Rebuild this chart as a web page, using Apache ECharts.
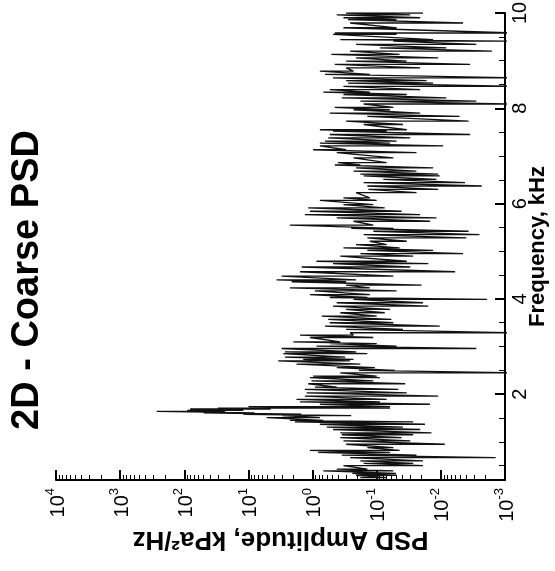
<!DOCTYPE html>
<html>
<head>
<meta charset="utf-8">
<script src="https://cdn.jsdelivr.net/npm/echarts@6/dist/echarts.min.js"></script>
<style>html,body{margin:0;padding:0;background:#fff;}#c{width:555px;height:571px;}</style>
</head>
<body>
<div id="c"></div>
<script>
// Frequency (kHz) of each spectral line group (ascending)
const freqKHz = [
0.25,0.30,0.34,0.39,0.43,0.50,0.55,0.60,0.67,0.72,0.78,0.82,0.88,0.95,1.02,1.09,1.15,1.19,1.26,1.31,1.37,1.42,1.45,1.51,
1.55,1.58,1.61,1.64,1.66,1.69,1.71,1.74,
1.79,1.84,1.89,1.96,2.03,2.10,2.15,2.22,2.28,2.35,2.38,2.45,2.50,2.56,2.63,2.70,2.73,2.78,2.85,2.89,2.96,3.01,3.06,3.10,3.19,3.24,3.29,3.36,
3.43,3.50,3.57,3.64,3.71,3.78,3.85,3.92,3.99,4.03,4.09,4.17,4.23,4.29,4.36,4.40,4.48,4.57,4.67,4.74,4.79,4.90,4.95,5.02,
5.07,5.14,5.21,5.28,5.35,5.42,5.48,5.55,5.63,5.70,5.77,5.84,5.91,5.98,6.07,6.12,6.23,6.30,6.37,6.44,6.51,6.58,6.62,6.68,
6.75,6.81,6.86,6.96,7.07,7.13,7.21,7.27,7.31,7.38,7.45,7.52,7.55,7.66,7.73,7.83,7.90,7.97,8.02,8.09,8.15,8.22,8.29,8.34,8.39,
8.46,8.53,8.58,8.64,8.71,8.78,8.85,8.92,8.99,9.06,9.13,9.20,9.27,9.34,9.41,9.44,9.55,9.58,9.69,9.79,9.86,9.90,9.96,10.0
];
// Upper PSD value in each group (kPa^2/Hz)
const psdHigh = [
0.18,0.21,0.24,0.68,0.42,0.33,0.16,0.18,0.26,0.35,0.82,1.10,0.14,0.30,0.33,0.37,0.35,0.37,0.48,0.60,0.77,1.88,2.26,5.2,
3.0,12,50,270,90,81,30,10,
0.77,1.57,1.78,1.32,1.24,1.32,0.92,1.17,1.04,1.10,0.98,0.37,0.19,0.42,1.78,3.43,1.40,2.70,2.86,2.70,3.04,0.87,0.54,2.0,1.10,1.57,0.26,0.30,
0.64,0.54,0.57,0.72,0.37,0.30,0.48,0.42,0.23,0.54,1.10,0.92,2.26,0.30,2.12,3.64,3.04,1.57,1.48,0.48,0.87,0.37,0.18,0.14,
0.33,0.21,0.128,0.14,0.16,0.113,0.25,2.26,0.23,0.42,1.32,1.10,1.17,0.33,0.77,0.33,0.21,0.135,0.14,0.16,0.079,0.16,0.18,0.23,
0.21,0.45,0.40,0.23,0.42,0.98,0.77,0.77,0.64,0.57,0.54,0.48,0.77,0.16,0.30,0.14,0.54,0.23,0.45,0.16,0.18,0.35,0.33,0.68,0.54,
0.33,0.28,0.30,0.48,0.64,0.77,0.30,0.45,0.30,0.21,0.51,0.26,0.089,0.21,0.055,0.37,0.48,0.45,0.33,0.26,0.28,0.33,0.42,0.30
];
// Lower PSD value in each group (kPa^2/Hz)
const psdLow = [
0.070,0.049,0.05,0.055,0.14,0.019,0.027,0.019,0.0014,0.024,0.062,0.044,0.055,0.0087,0.030,0.041,0.027,0.014,0.021,0.039,0.0177,0.027,0.68,0.77,
0.25,1.5,8,23,12,4.5,0.062,0.062,
0.0148,0.089,0.070,0.011,0.034,0.046,0.42,0.036,0.113,0.089,0.10,0.0007,0.052,0.107,0.18,0.26,0.23,0.31,0.14,0.21,0.0028,0.049,0.10,0.37,0.113,0.23,0.0007,0.039,
0.0104,0.055,0.059,0.10,0.075,0.062,0.0157,0.019,0.0019,0.14,0.128,0.049,0.128,0.020,0.30,0.21,0.055,0.006,0.030,0.0157,0.034,0.027,0.0045,0.0132,
0.044,0.070,0.034,0.004,0.0025,0.0037,0.055,0.113,0.0148,0.0117,0.021,0.041,0.075,0.113,0.10,0.128,0.024,0.011,0.0023,0.0042,0.0117,0.0104,0.011,0.024,
0.0132,0.18,0.070,0.055,0.024,0.30,0.0092,0.062,0.049,0.030,0.0035,0.070,0.034,0.039,0.0037,0.0051,0.021,0.062,0.055,0.0007,0.0028,0.0082,0.034,0.128,0.021,
0.0007,0.0132,0.0167,0.0007,0.128,0.23,0.021,0.0035,0.034,0.011,0.044,0.0016,0.0082,0.0028,0.0007,0.0132,0.049,0.0007,0.049,0.0045,0.049,0.021,0.03,0.019
];
// Axis tick labels
const freqTickValues = [2, 4, 6, 8, 10];
const freqMinorTickValues = [0.5,1,1.5,2.5,3,3.5,4.5,5,5.5,6.5,7,7.5,8.5,9,9.5];
const titleText = '2D - Coarse PSD';
const xName = 'PSD Amplitude, kPa\u00B2/Hz';
const yName = 'Frequency, kHz';

const FONT = '"Liberation Sans", Arial, Helvetica, sans-serif';
const points = [];
for (let i = 0; i < freqKHz.length; i++) {
  points.push([psdHigh[i], freqKHz[i]]);
  points.push([psdLow[i], freqKHz[i]]);
}

const chart = echarts.init(document.getElementById('c'), null, {renderer: 'canvas'});
chart.setOption({
  animation: false,
  backgroundColor: '#fff',
  grid: {left: 56, right: 50, top: 13, bottom: 91, containLabel: false, outerBoundsMode: 'none'},
  graphic: [{
    type: 'text', x: 28, y: 280, rotation: Math.PI / 2,
    style: {text: titleText, fontSize: 38, fontWeight: 'bold', fontFamily: FONT, fill: '#000', align: 'center', verticalAlign: 'middle'}
  }],
  xAxis: [{
    type: 'log', logBase: 10, min: 0.001, max: 10000, inverse: true, position: 'bottom',
    splitNumber: 7,
    axisLine: {show: true, onZero: false, lineStyle: {color: '#000', width: 2}},
    axisTick: {show: true, inside: true, length: 10, lineStyle: {color: '#000', width: 2}},
    minorTick: {show: true, splitNumber: 9, length: 5, lineStyle: {color: '#000', width: 1}},
    splitLine: {show: false}, minorSplitLine: {show: false},
    axisLabel: {
      rotate: 90, margin: 8, color: '#000', fontFamily: FONT, fontSize: 20,
      showMinLabel: true, showMaxLabel: true,
      formatter: function (v) { return '{b|10}{e|' + Math.round(Math.log10(v)) + '}'; },
      rich: {b: {fontSize: 20, fontFamily: FONT, color: '#000', lineHeight: 24, verticalAlign: 'bottom'},
             e: {fontSize: 13, fontFamily: FONT, color: '#000', lineHeight: 24, verticalAlign: 'top', padding: [0, 0, 10, 0]}}
    },
    name: xName, nameLocation: 'middle', nameGap: 46, nameRotate: 180, nameMoveOverlap: false,
    nameTextStyle: {fontSize: 26, fontWeight: 'bold', fontFamily: FONT, color: '#000'}
  }],
  yAxis: [{
    type: 'value', min: 0.2, max: 10, position: 'right',
    axisLine: {show: true, onZero: false, lineStyle: {color: '#000', width: 2}},
    axisTick: {show: true, inside: true, length: 10, customValues: freqTickValues, lineStyle: {color: '#000', width: 2}},
    splitLine: {show: false},
    axisLabel: {rotate: 90, margin: 5, color: '#000', fontFamily: FONT, fontSize: 20, customValues: freqTickValues},
    name: yName, nameLocation: 'middle', nameGap: 22, nameRotate: 90, nameMoveOverlap: false,
    nameTextStyle: {fontSize: 22, fontWeight: 'bold', fontFamily: FONT, color: '#000'}
  }, {
    type: 'value', min: 0.2, max: 10, position: 'right',
    axisLine: {show: false, onZero: false},
    axisTick: {show: true, inside: true, length: 6, customValues: freqMinorTickValues, lineStyle: {color: '#000', width: 1}},
    axisLabel: {show: false}, splitLine: {show: false}
  }],
  series: [{
    type: 'line', xAxisIndex: 0, yAxisIndex: 0, data: points,
    showSymbol: false, symbol: 'none', clip: true,
    lineStyle: {color: '#111', width: 1.3}
  }]
});
</script>
</body>
</html>
